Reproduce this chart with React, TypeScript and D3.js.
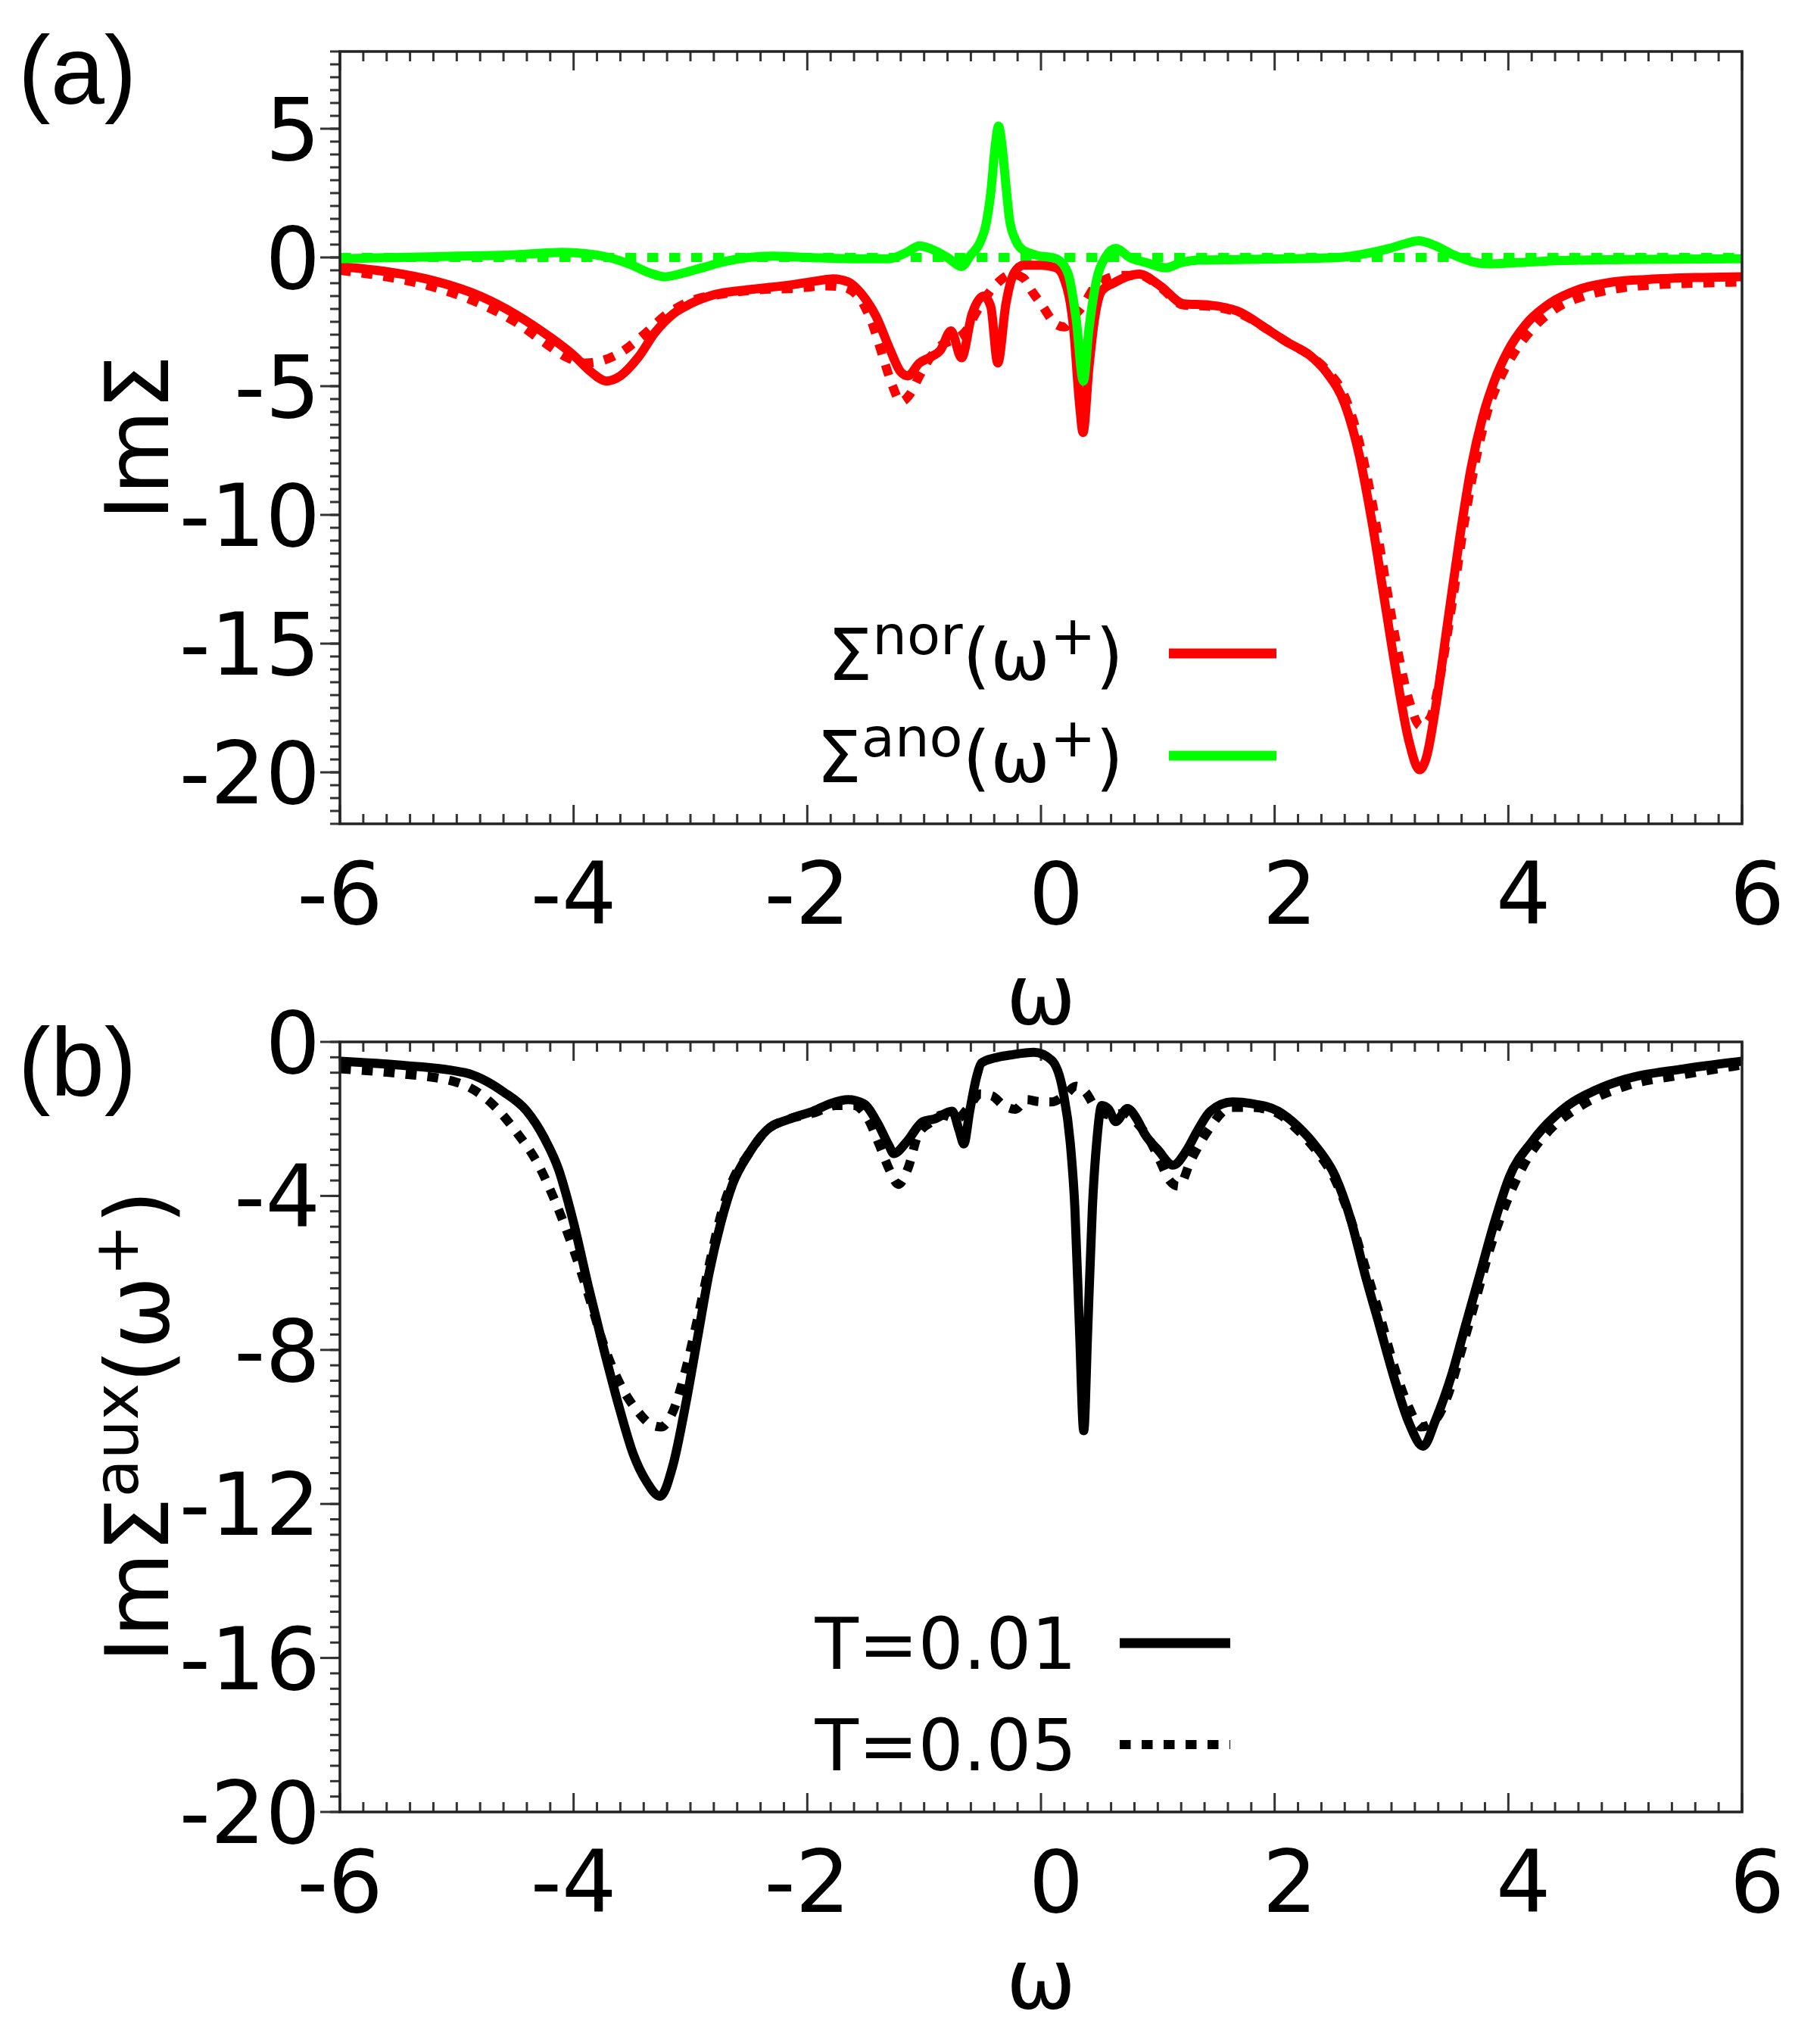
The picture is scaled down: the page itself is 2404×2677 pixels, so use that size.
import * as d3 from 'd3'

// ---- panel (a): Im Sigma, normal and anomalous parts ----
const norT001: [number, number][] = [
  [-6, -0.35], [-5.6, -0.55], [-5.2, -0.9], [-4.8, -1.5], [-4.5, -2.2], [-4.2, -3.1], [-4.0, -3.8],
  [-3.85, -4.45], [-3.72, -4.8], [-3.6, -4.6], [-3.45, -3.9], [-3.3, -2.9], [-3.15, -2.2], [-3.0, -1.8],
  [-2.8, -1.45], [-2.5, -1.25], [-2.2, -1.1], [-1.9, -0.9], [-1.78, -0.83], [-1.65, -0.95], [-1.53, -1.45],
  [-1.41, -2.3], [-1.29, -3.6], [-1.2, -4.45], [-1.14, -4.6], [-1.04, -4.1], [-0.96, -3.9], [-0.86, -3.6],
  [-0.77, -2.85], [-0.68, -3.9], [-0.59, -2.2], [-0.49, -1.5], [-0.43, -1.9], [-0.37, -4.1], [-0.3, -1.8],
  [-0.23, -0.6], [-0.15, -0.3], [0, -0.3], [0.13, -0.4], [0.2, -0.85], [0.28, -2.8], [0.33, -5.7],
  [0.36, -6.8], [0.41, -4.3], [0.46, -2.35], [0.52, -1.3], [0.62, -1.0], [0.84, -0.65], [1.02, -1.1],
  [1.22, -1.8], [1.44, -1.85], [1.69, -2.1], [1.94, -2.8], [2.11, -3.3], [2.3, -3.8], [2.45, -4.5],
  [2.6, -5.7], [2.72, -7.6], [2.83, -10.2], [2.95, -13.6], [3.05, -16.4], [3.15, -18.8], [3.24, -19.9],
  [3.3, -19.4], [3.38, -17.4], [3.48, -14.2], [3.58, -11.0], [3.68, -8.2], [3.78, -6.2], [3.88, -4.8],
  [4.0, -3.6], [4.15, -2.6], [4.35, -1.8], [4.6, -1.25], [4.9, -0.95], [5.2, -0.85], [5.6, -0.78],
  [6.0, -0.75],
]

const norT005: [number, number][] = [
  [-6, -0.5], [-5.6, -0.75], [-5.2, -1.15], [-4.8, -1.8], [-4.5, -2.5], [-4.25, -3.3], [-4.05, -3.9],
  [-3.9, -4.1], [-3.75, -4.0], [-3.6, -3.7], [-3.4, -3.0], [-3.2, -2.2], [-3.0, -1.7], [-2.7, -1.4],
  [-2.4, -1.25], [-2.1, -1.2], [-1.85, -1.1], [-1.7, -1.15], [-1.55, -1.6], [-1.45, -2.5], [-1.35, -3.9],
  [-1.27, -5.0], [-1.2, -5.6], [-1.12, -5.3], [-1.04, -4.6], [-0.95, -3.9], [-0.85, -3.4], [-0.75, -3.2],
  [-0.65, -2.9], [-0.55, -2.1], [-0.45, -1.4], [-0.35, -0.9], [-0.25, -0.65], [-0.15, -0.8], [-0.08, -1.3],
  [0.0, -1.8], [0.13, -2.6], [0.2, -2.7], [0.28, -2.3], [0.37, -1.8], [0.45, -1.2], [0.55, -0.85],
  [0.7, -0.7], [0.85, -0.7], [1.02, -1.15], [1.22, -1.85], [1.44, -1.9], [1.69, -2.15], [1.94, -2.8],
  [2.11, -3.3], [2.3, -3.8], [2.45, -4.4], [2.6, -5.4], [2.72, -7.1], [2.83, -9.4], [2.95, -12.6],
  [3.05, -15.2], [3.15, -17.2], [3.25, -18.2], [3.33, -17.9], [3.42, -16.2], [3.52, -13.4], [3.62, -10.4],
  [3.72, -7.9], [3.82, -6.0], [3.92, -4.8], [4.05, -3.7], [4.2, -2.8], [4.4, -2.0], [4.65, -1.5],
  [4.95, -1.2], [5.3, -1.05], [5.6, -1.0], [6.0, -0.95],
]

const anoT001: [number, number][] = [
  [-6, -0.05], [-5.5, 0.0], [-5.0, 0.05], [-4.5, 0.1], [-4.1, 0.2], [-3.9, 0.15], [-3.7, 0.0],
  [-3.5, -0.3], [-3.35, -0.6], [-3.22, -0.75], [-3.1, -0.65], [-2.9, -0.4], [-2.7, -0.15], [-2.5, 0.0],
  [-2.3, 0.05], [-2.0, 0.0], [-1.6, -0.05], [-1.3, -0.05], [-1.15, 0.2], [-1.04, 0.45], [-0.95, 0.35],
  [-0.8, 0.0], [-0.68, -0.35], [-0.6, 0.1], [-0.52, 0.6], [-0.47, 1.3], [-0.43, 2.5], [-0.39, 4.4],
  [-0.363, 5.1], [-0.33, 4.2], [-0.3, 2.8], [-0.27, 1.5], [-0.22, 0.7], [-0.17, 0.35], [-0.05, 0.1],
  [0.13, -0.05], [0.23, -0.6], [0.3, -2.35], [0.363, -4.8], [0.41, -2.8], [0.47, -1.0], [0.55, 0.0],
  [0.64, 0.35], [0.76, 0.0], [0.9, -0.2], [1.07, -0.4], [1.2, -0.2], [1.35, -0.1], [1.7, -0.08],
  [2.1, -0.05], [2.55, 0.0], [2.78, 0.15], [2.98, 0.35], [3.13, 0.55], [3.23, 0.65], [3.38, 0.45],
  [3.53, 0.1], [3.68, -0.15], [3.83, -0.25], [4.08, -0.2], [4.45, -0.12], [5.0, -0.08], [6.0, -0.05],
]

const anoT005: [number, number][] = [
  [-6, 0], [-4, 0], [-2, 0], [-1, 0], [0, 0], [1, 0], [2, 0], [4, 0], [6, 0],
]

// ---- panel (b): Im Sigma aux ----
const auxT001: [number, number][] = [
  [-6, -0.5], [-5.5, -0.6], [-4.93, -0.8], [-4.6, -1.3], [-4.4, -1.8], [-4.25, -2.5], [-4.13, -3.3],
  [-4.0, -4.7], [-3.87, -6.4], [-3.74, -8.0], [-3.6, -9.6], [-3.49, -10.7], [-3.38, -11.4], [-3.26, -11.8],
  [-3.15, -11.0], [-3.04, -9.4], [-2.94, -7.7], [-2.84, -6.0], [-2.74, -4.7], [-2.64, -3.7], [-2.5, -2.9],
  [-2.35, -2.3], [-2.15, -2.0], [-1.95, -1.8], [-1.8, -1.6], [-1.65, -1.5], [-1.52, -1.6], [-1.4, -2.1],
  [-1.3, -2.7], [-1.26, -2.9], [-1.15, -2.6], [-1.01, -2.07], [-0.91, -2.0], [-0.76, -1.8], [-0.7, -2.3],
  [-0.66, -2.65], [-0.61, -1.8], [-0.55, -0.9], [-0.51, -0.55], [-0.4, -0.42], [-0.26, -0.34], [-0.06, -0.27],
  [0.09, -0.47], [0.19, -1.3], [0.25, -2.6], [0.29, -4.3], [0.33, -7.5], [0.366, -10.1], [0.4, -7.5],
  [0.44, -4.3], [0.48, -2.5], [0.52, -1.65], [0.58, -1.75], [0.64, -2.07], [0.74, -1.73], [0.82, -2.0],
  [0.89, -2.4], [1.0, -2.8], [1.13, -3.2], [1.25, -2.8], [1.34, -2.3], [1.45, -1.8], [1.64, -1.56],
  [1.8, -1.6], [2.03, -1.8], [2.2, -2.2], [2.35, -2.7], [2.52, -3.5], [2.65, -4.6], [2.77, -6.0],
  [2.9, -7.4], [3.02, -8.7], [3.15, -9.9], [3.27, -10.5], [3.38, -9.8], [3.51, -8.7], [3.63, -7.4],
  [3.76, -6.0], [3.88, -4.7], [4.01, -3.5], [4.2, -2.6], [4.51, -1.65], [4.75, -1.25], [5.0, -0.97],
  [5.5, -0.7], [6.0, -0.5],
]

const auxT005: [number, number][] = [
  [-6, -0.7], [-5.5, -0.82], [-5.0, -1.05], [-4.7, -1.6], [-4.5, -2.3], [-4.3, -3.2], [-4.15, -4.2],
  [-4.0, -5.4], [-3.87, -6.6], [-3.75, -7.8], [-3.6, -8.9], [-3.45, -9.6], [-3.33, -9.95], [-3.25, -10.0],
  [-3.15, -9.6], [-3.04, -8.5], [-2.94, -7.2], [-2.84, -5.8], [-2.74, -4.5], [-2.64, -3.6], [-2.5, -2.9],
  [-2.35, -2.3], [-2.15, -2.0], [-1.95, -1.85], [-1.75, -1.65], [-1.6, -1.65], [-1.48, -2.0], [-1.38, -2.7],
  [-1.3, -3.3], [-1.22, -3.7], [-1.14, -3.3], [-1.05, -2.4], [-0.95, -2.1], [-0.85, -1.9], [-0.72, -2.0],
  [-0.62, -1.7], [-0.52, -1.35], [-0.42, -1.4], [-0.32, -1.65], [-0.22, -1.75], [-0.12, -1.5], [-0.02, -1.55],
  [0.09, -1.56], [0.2, -1.4], [0.3, -1.15], [0.38, -1.3], [0.49, -1.8], [0.6, -1.9], [0.72, -1.85],
  [0.82, -2.1], [0.92, -2.5], [1.02, -3.1], [1.1, -3.6], [1.18, -3.75], [1.28, -3.1], [1.43, -2.3],
  [1.63, -1.7], [1.8, -1.7], [2.02, -1.85], [2.2, -2.3], [2.35, -2.8], [2.52, -3.6], [2.65, -4.6],
  [2.77, -5.8], [2.9, -7.1], [3.02, -8.4], [3.15, -9.5], [3.25, -10.0], [3.35, -9.9], [3.48, -9.2],
  [3.6, -8.0], [3.73, -6.6], [3.85, -5.3], [3.98, -4.2], [4.15, -3.1], [4.35, -2.3], [4.6, -1.7],
  [5.0, -1.15], [5.5, -0.85], [6.0, -0.6],
]

const xTickLabels = [-6, -4, -2, 0, 2, 4, 6]
const yTicksA = [5, 0, -5, -10, -15, -20]
const yTicksB = [0, -4, -8, -12, -16, -20]

const FONT = 'DejaVu Sans'
const W = 2404
const H = 2677
const LEFT = 449
const RIGHT = 2301

interface PanelProps {
  top: number
  bottom: number
  yDomain: [number, number]
  yTicks: number[]
  yMinorStep: number
  clipId: string
  titleY: number
  children: (x: d3.ScaleLinear<number, number>, y: d3.ScaleLinear<number, number>) => any
}

function Panel({ top, bottom, yDomain, yTicks, yMinorStep, clipId, titleY, children }: PanelProps) {
  const x = d3.scaleLinear().domain([-6, 6]).range([LEFT, RIGHT])
  const y = d3.scaleLinear().domain(yDomain).range([bottom, top])
  const xMinor = d3.range(-6, 6.0001, 0.2).map(v => Math.round(v * 10) / 10)
  const yMinor = d3.range(yDomain[0], yDomain[1] + 0.0001, yMinorStep).map(v => Math.round(v * 10) / 10)
  const tickColor = '#333'
  return (
    <g>
      <defs>
        <clipPath id={clipId}>
          <rect x={LEFT} y={top} width={RIGHT - LEFT} height={bottom - top} />
        </clipPath>
      </defs>
      {/* x ticks: inward on top and bottom */}
      {xMinor.map((v, i) => {
        const major = Math.abs(v % 2) < 1e-6
        const len = major ? 25 : 13
        return (
          <g key={'xt' + i} stroke={tickColor} strokeWidth={3}>
            <line x1={x(v)} x2={x(v)} y1={bottom} y2={bottom - len} />
            <line x1={x(v)} x2={x(v)} y1={top} y2={top + len} />
          </g>
        )
      })}
      {/* y ticks: outward on the left */}
      {yMinor.map((v, i) => (
        <line key={'ym' + i} x1={LEFT - 13} x2={LEFT} y1={y(v)} y2={y(v)} stroke={tickColor} strokeWidth={3} />
      ))}
      {yTicks.map(v => (
        <line key={'yM' + v} x1={LEFT - 26} x2={LEFT} y1={y(v)} y2={y(v)} stroke={tickColor} strokeWidth={3} />
      ))}
      <g clipPath={`url(#${clipId})`}>{children(x, y)}</g>
      <rect x={LEFT} y={top} width={RIGHT - LEFT} height={bottom - top} fill="none" stroke="#222" strokeWidth={3.5} />
      {yTicks.map(v => (
        <text key={'yl' + v} x={423} y={y(v) + 41} textAnchor="end" fontFamily={FONT} fontSize={114}>
          {String(v)}
        </text>
      ))}
      {/* positive labels keep room for a minus sign, so they sit a little to the right */}
      {xTickLabels.map(v => (
        <text key={'xl' + v} x={x(v) + (v >= 0 ? 20 : 0)} y={bottom + 132} textAnchor="middle" fontFamily={FONT} fontSize={114}>
          {String(v)}
        </text>
      ))}
      <text x={(LEFT + RIGHT) / 2} y={titleY} textAnchor="middle" fontFamily={FONT} fontSize={110}>ω</text>
    </g>
  )
}

const SW = 12
const DASH = '14.5 14.5'

export default function App() {
  const line = (x: d3.ScaleLinear<number, number>, y: d3.ScaleLinear<number, number>) =>
    d3.line<[number, number]>().x(d => x(d[0])).y(d => y(d[1])).curve(d3.curveMonotoneX)

  return (
    <svg width={W} height={H} viewBox={`0 0 ${W} ${H}`} style={{ position: 'absolute', left: 0, top: 0, background: '#fff' }}>
      <rect width={W} height={H} fill="#fff" />

      <text x={24} y={137} fontFamily="Liberation Sans" fontSize={128}>(a)</text>
      <text x={24} y={1447} fontFamily="Liberation Sans" fontSize={128}>(b)</text>

      <Panel top={68} bottom={1088} yDomain={[-22, 8]} yTicks={yTicksA} yMinorStep={0.5} clipId="clipA" titleY={1352}>
        {(x, y) => {
          const l = line(x, y)
          return (
            <g fill="none" strokeLinejoin="round">
              <path d={l(anoT005) || ''} stroke="#00ff00" strokeWidth={SW} strokeDasharray={DASH} />
              <path d={l(norT005) || ''} stroke="#ff0000" strokeWidth={SW} strokeDasharray={DASH} />
              <path d={l(norT001) || ''} stroke="#ff0000" strokeWidth={SW} />
              <path d={l(anoT001) || ''} stroke="#00ff00" strokeWidth={SW} />
            </g>
          )
        }}
      </Panel>

      <Panel top={1376} bottom={2393} yDomain={[-20, 0]} yTicks={yTicksB} yMinorStep={0.4} clipId="clipB" titleY={2652}>
        {(x, y) => {
          const l = line(x, y)
          return (
            <g fill="none" strokeLinejoin="round">
              <path d={l(auxT005) || ''} stroke="#000" strokeWidth={SW} strokeDasharray={DASH} />
              <path d={l(auxT001) || ''} stroke="#000" strokeWidth={SW} />
            </g>
          )
        }}
      </Panel>

      {/* y axis titles */}
      <text transform="translate(222,578) rotate(-90)" textAnchor="middle" fontFamily={FONT} fontSize={115}>ImΣ</text>
      <text transform="translate(222,1884) rotate(-90)" textAnchor="middle" fontFamily={FONT} fontSize={115}>
        ImΣ<tspan fontSize={82} dy={-40}>aux</tspan><tspan dy={40}>(ω</tspan><tspan fontSize={82} dy={-40}>+</tspan><tspan dy={40}>)</tspan>
      </text>

      {/* legend (a) */}
      <text x={1484} y={898} textAnchor="end" fontFamily={FONT} fontSize={94}>
        Σ<tspan fontSize={72} dy={-34}>nor</tspan><tspan dy={34}>(ω</tspan><tspan fontSize={72} dy={-34}>+</tspan><tspan dy={34}>)</tspan>
      </text>
      <line x1={1544} x2={1686} y1={863} y2={863} stroke="#ff0000" strokeWidth={13} />
      <text x={1484} y={1033} textAnchor="end" fontFamily={FONT} fontSize={94}>
        Σ<tspan fontSize={72} dy={-34}>ano</tspan><tspan dy={34}>(ω</tspan><tspan fontSize={72} dy={-34}>+</tspan><tspan dy={34}>)</tspan>
      </text>
      <line x1={1544} x2={1686} y1={998} y2={998} stroke="#00ff00" strokeWidth={13} />

      {/* legend (b) */}
      <text x={1422} y={2204} textAnchor="end" fontFamily={FONT} fontSize={94}>T=0.01</text>
      <line x1={1479} x2={1625} y1={2170} y2={2170} stroke="#000" strokeWidth={13} />
      <text x={1422} y={2338} textAnchor="end" fontFamily={FONT} fontSize={94}>T=0.05</text>
      <line x1={1479} x2={1625} y1={2304} y2={2304} stroke="#000" strokeWidth={12} strokeDasharray={DASH} />
    </svg>
  )
}
